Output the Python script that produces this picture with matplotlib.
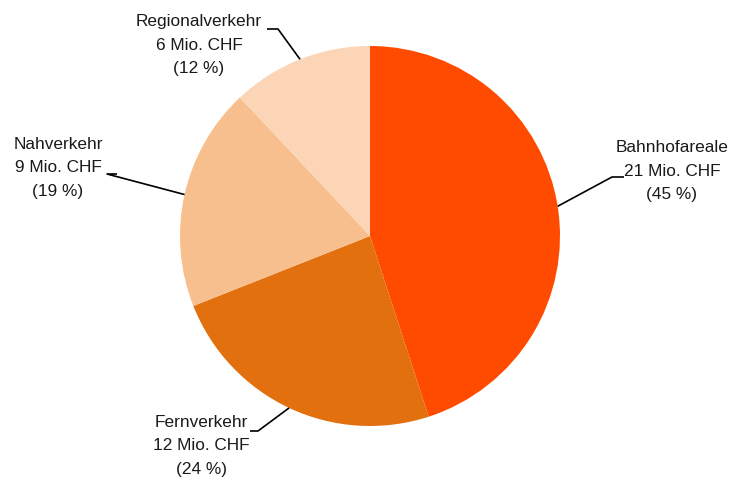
import numpy as np
import matplotlib
matplotlib.use("Agg")
import matplotlib.pyplot as plt

categories = ["Bahnhofareale", "Fernverkehr", "Nahverkehr", "Regionalverkehr"]
values_mio = [21, 12, 9, 6]
shares = [45, 24, 19, 12]
colors = ["#FF4B00", "#E3700E", "#F8BF8E", "#FBD5B5"]

W, H = 732, 481
fig = plt.figure(figsize=(W / 100, H / 100), dpi=100)
ax = fig.add_axes([0, 0, 1, 1])

cx, cy, r = 370, H - 237, 190
wedges, _ = ax.pie(shares, colors=colors, startangle=90, counterclock=False,
                   center=(cx, cy), radius=r, frame=True,
                   wedgeprops=dict(linewidth=0))
ax.set_xlim(0, W)
ax.set_ylim(0, H)
ax.set_aspect("equal")
ax.axis("off")

fam = ["Liberation Sans Narrow", "Liberation Sans", "DejaVu Sans"]

# label layout (pixel coords): text center x/y, elbow point, horizontal end
layout = {
    "Bahnhofareale": dict(tx=672, ty=171, ex=612, ey=178, hx=624),
    "Fernverkehr": dict(tx=201, ty=446, ex=258, ey=432, hx=250),
    "Nahverkehr": dict(tx=58, ty=168, ex=107, ey=175, hx=117),
    "Regionalverkehr": dict(tx=199, ty=45, ex=278, ey=30, hx=267),
}

for w, cat, v, s in zip(wedges, categories, values_mio, shares):
    ang = np.deg2rad((w.theta1 + w.theta2) / 2)
    px, py = cx + r * np.cos(ang), cy + r * np.sin(ang)
    L = layout[cat]
    ax.plot([px, L["ex"], L["hx"]], [py, H - L["ey"], H - L["ey"]],
            color="black", lw=1.2, solid_capstyle="butt")
    ax.text(L["tx"], H - L["ty"], f"{cat}\n{v} Mio. CHF\n({s} %)",
            ha="center", va="center", fontsize=12.4, linespacing=1.7,
            family=fam, color="#1a1a1a")

fig.savefig("out.png", dpi=100, facecolor="white")
